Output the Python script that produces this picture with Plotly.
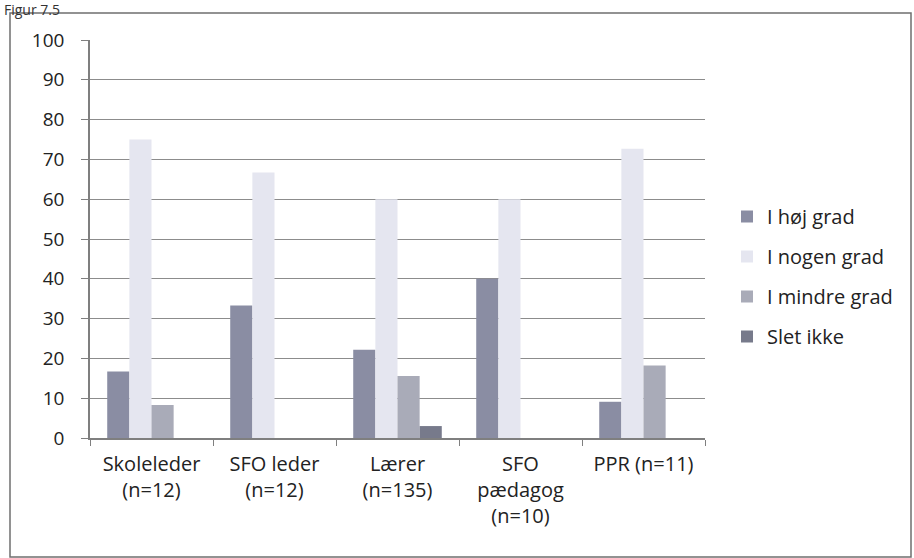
import plotly.graph_objects as go

categories = ["Skoleleder<br>(n=12)", "SFO leder<br>(n=12)", "Lærer<br>(n=135)", "SFO<br>pædagog<br>(n=10)", "PPR (n=11)"]
series_names = ["I høj grad", "I nogen grad", "I mindre grad", "Slet ikke"]
hoej = [16.7, 33.3, 22.2, 40.0, 9.1]
nogen = [75.0, 66.7, 60.0, 60.0, 72.7]
mindre = [8.3, 0.0, 15.6, 0.0, 18.2]
slet = [0.0, 0.0, 3.0, 0.0, 0.0]
y_ticks = [0, 10, 20, 30, 40, 50, 60, 70, 80, 90, 100]

colors = ["#8a8da3", "#e5e6f0", "#a9abb8", "#777a8b"]
values = [hoej, nogen, mindre, slet]

W, H = 914, 558
L, R, T, B = 90, 209, 40, 120
ph = H - T - B
pw = W - L - R

def px_y(p):
    return (H - B - p) / ph

def px_x(p):
    return (p - L) / pw

FONT = "Open Sans, Noto Sans, sans-serif"

fig = go.Figure()
for name, vals, c in zip(series_names, values, colors):
    fig.add_trace(go.Bar(
        x=categories, y=vals, name=name, marker_color=c,
        marker_line_width=0, legendgroup=name,
    ))

fig.update_layout(
    width=W, height=H,
    margin=dict(l=L, r=R, t=T, b=B, autoexpand=False),
    paper_bgcolor="white", plot_bgcolor="white",
    barmode="group", bargap=0.28, bargroupgap=0,
    font=dict(family=FONT, size=19, color="#222222"),
    legend=dict(
        x=px_x(727), y=px_y(197), xanchor="left", yanchor="top",
        font=dict(size=20, color="#222222"),
        tracegroupgap=11, itemwidth=30, bgcolor="rgba(0,0,0,0)",
    ),
    showlegend=True,
)
fig.update_xaxes(
    showline=True, linecolor="#7f7f7f", linewidth=1.5,
    ticks="outside", tickson="boundaries", ticklen=6, tickcolor="#7f7f7f",
    ticklabelstandoff=7,
    showgrid=False, tickfont=dict(size=20),
)
fig.update_yaxes(
    range=[0, 100], tickvals=y_ticks, showline=True, linecolor="#7f7f7f", linewidth=1.5,
    ticks="outside", ticklen=7, tickcolor="#7f7f7f", ticklabelstandoff=13,
    showgrid=True, gridcolor="#8c8c8c", gridwidth=1.3,
    zeroline=False, tickfont=dict(size=19),
)

# outer chart frame
fig.add_shape(type="rect", xref="paper", yref="paper",
              x0=px_x(10), x1=px_x(911), y0=px_y(557), y1=px_y(13),
              line=dict(color="#6f6f6f", width=1.5), fillcolor="rgba(0,0,0,0)", layer="below")

fig.add_annotation(text="Figur 7.5", xref="paper", yref="paper",
                   x=px_x(2), y=px_y(-2), xanchor="left", yanchor="top",
                   showarrow=False, font=dict(size=14, color="#333333"))

fig.write_html("out.html", config={"displayModeBar": False},
               post_script="document.body.style.margin='0';")
